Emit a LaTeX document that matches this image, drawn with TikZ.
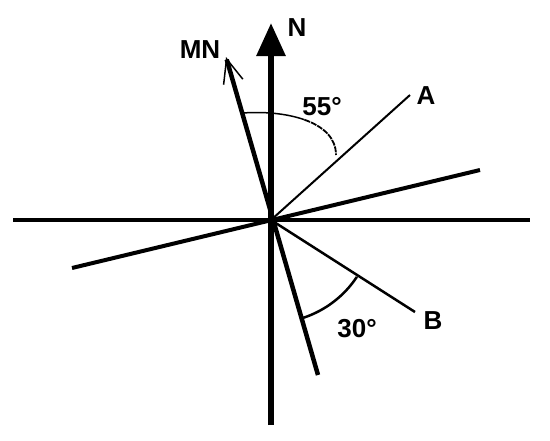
\documentclass[tikz,border=0pt]{standalone}
\usepackage{fontspec}
\setmainfont{Liberation Sans}
\usetikzlibrary{arrows.meta}
\begin{document}
\begin{tikzpicture}[x=1pt,y=-1pt,
  lbl/.style={font=\fontsize{26}{30}\selectfont\bfseries, inner sep=0pt},
  thickline/.style={line width=4pt},
  thinline/.style={line width=2pt}]
\useasboundingbox (0,0) rectangle (550,440);
\coordinate (O) at (271,220);
\coordinate (W) at (13,220);
\coordinate (E) at (530,220);
\coordinate (S) at (271,425);
\coordinate (Ntip) at (271,23);
\coordinate (TL) at (72,268);
\coordinate (TR) at (480,170);
\coordinate (MNb) at (318,375);
\coordinate (MNt) at (226,57);
\coordinate (Aend) at (410,95);
\coordinate (Bend) at (415,312);
% axes
\draw[thickline] (W) -- (E);
\draw[line width=6pt, -{Triangle[length=33pt,width=28pt]}] (S) -- (Ntip);
\draw[thickline] (TL) -- (TR);
\draw[line width=4.5pt, -{Straight Barb[line width=1.5pt,length=24pt,width=20pt]}] (MNb) -- (MNt);
\draw[thinline] (O) -- (Aend);
\draw[line width=2.5pt] (O) -- (Bend);
% 55 arc
\draw[line width=1.5pt] (243,113) .. controls (263,111.5) and (286.25,113.25) .. (304.5,119.75);
\draw[line width=1.8pt, dash pattern=on 6pt off 1pt] (304.5,119.75) .. controls (322.75,126.25) and (336,137.5) .. (336,155);
% 30 arc
\draw[line width=2.5pt] (O) ++(33.5:103) arc[start angle=33.5, end angle=71.7, radius=103];
% labels
\node[lbl] (lN) at (297,28) {N};
\node[lbl] (lMN) at (200,50) {MN};
\node[lbl] (l55) at (322,107) {55°};
\node[lbl] (lA) at (426,96) {A};
\node[lbl] (lB) at (433,321) {B};
\node[lbl] (l30) at (357,329) {30°};
\end{tikzpicture}
\end{document}
